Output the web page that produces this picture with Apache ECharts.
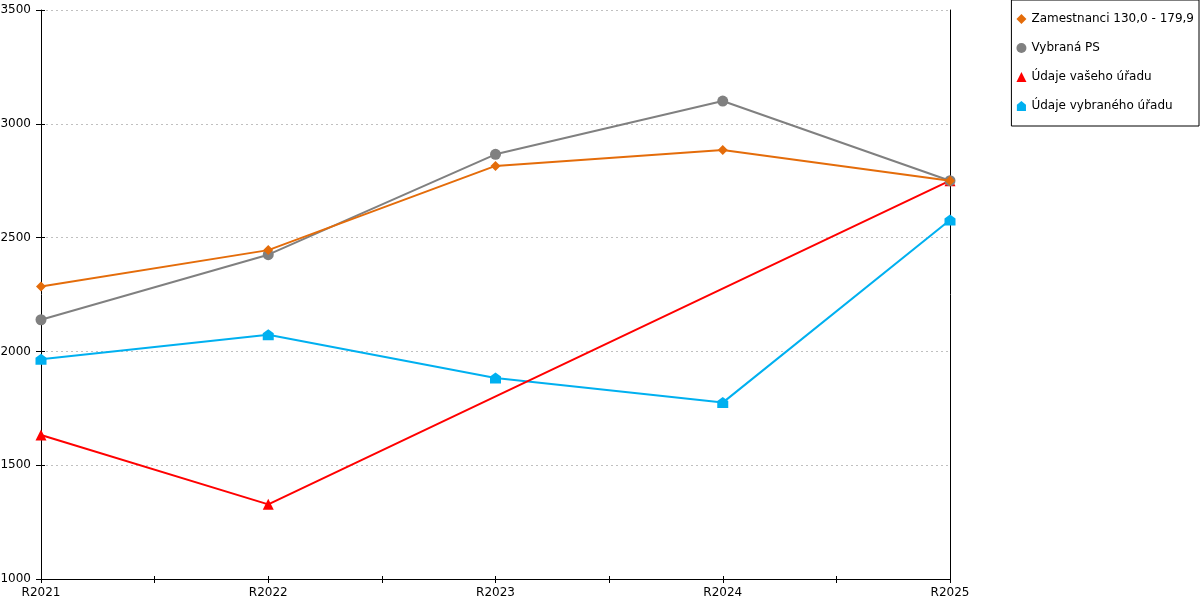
<!DOCTYPE html>
<html>
<head>
<meta charset="utf-8">
<script src="https://cdn.jsdelivr.net/npm/echarts@6/dist/echarts.min.js"></script>
<style>html,body{margin:0;padding:0;background:#fff}#c{width:1200px;height:600px}</style>
</head>
<body>
<div id="c"></div>
<script>
var categories = ['R2021', 'R2022', 'R2023', 'R2024', 'R2025'];
var seriesNames = ['Zamestnanci 130,0 - 179,9', 'Vybraná PS', 'Údaje vašeho úřadu', 'Údaje vybraného úřadu'];
var zamestnanci = [2285, 2445, 2815, 2885, 2750];
var vybranaPS = [2139, 2425, 2866, 3100, 2750];
var vasehoUradu = [1633, 1328, null, null, 2750];
var vybranehoUradu = [1966, 2073, 1883, 1775, 2577];
var yTicks = [1000, 1500, 2000, 2500, 3000, 3500];

var FONT = 'DejaVu Sans';
var house = 'path://M5,0 L10,4 L10,11 L0,11 L0,4 Z';
var colors = ['#E46C0A', '#808080', '#FF0000', '#00B0F0'];
var symbols = ['diamond', 'circle', 'triangle', house];
var sizes = [10, 11, 11, [11, 11]];
var datas = [zamestnanci, vybranaPS, vasehoUradu, vybranehoUradu];

function pairs(arr) { return arr.map(function (v, i) { return [i, v]; }); }

var chart = echarts.init(document.getElementById('c'), null, { renderer: 'canvas' });
var yMin = yTicks[0], yMax = yTicks[yTicks.length - 1], yInt = yTicks[1] - yTicks[0];
var option = {
  animation: false,
  backgroundColor: '#fff',
  textStyle: { fontFamily: FONT },
  grid: { left: 41, right: 250, top: 10, bottom: 21, containLabel: false, outerBoundsMode: 'none' },
  legend: {
    orient: 'vertical',
    right: 1, top: 0,
    padding: [13, 5, 14, 5],
    borderColor: '#000', borderWidth: 1,
    itemWidth: 10, itemHeight: 10, itemGap: 17,
    textStyle: { fontFamily: FONT, fontSize: 12, color: '#000', lineHeight: 12 },
    data: seriesNames.map(function (n, i) { return { name: n, icon: i === 3 ? house : symbols[i], itemStyle: { color: colors[i] } }; })
  },
  xAxis: [{
    type: 'value', min: 0, max: categories.length - 1, interval: 0.5,
    axisLine: { onZero: false, lineStyle: { color: '#000', width: 1 } },
    axisTick: { show: true, length: 4, lineStyle: { color: '#000' } },
    splitLine: { show: false },
    axisLabel: {
      color: '#000', fontSize: 12, fontFamily: FONT, margin: 8, showMinLabel: true, showMaxLabel: true,
      formatter: function (v) { return Number.isInteger(v) ? categories[v] : ''; }
    }
  }, {
    type: 'value', min: 0, max: categories.length - 1, interval: 0.5, position: 'bottom',
    axisLine: { show: false, onZero: false },
    axisTick: { show: true, inside: true, length: 3, lineStyle: { color: '#000' } },
    axisLabel: { show: false }, splitLine: { show: false }
  }],
  yAxis: [{
    type: 'value', min: yMin, max: yMax, interval: yInt,
    axisLine: { show: true, onZero: false, lineStyle: { color: '#000', width: 1 } },
    axisTick: { show: true, length: 5, lineStyle: { color: '#000' } },
    axisLabel: { color: '#000', fontSize: 12, fontFamily: FONT, margin: 10, formatter: function (v) { return String(v); } },
    splitLine: { show: true, lineStyle: { color: '#c0c0c0', type: [2, 3], width: 1 } }
  }, {
    type: 'value', min: yMin, max: yMax, interval: yInt, position: 'right',
    axisLine: { show: true, onZero: false, lineStyle: { color: '#000', width: 1 } },
    axisTick: { show: false }, axisLabel: { show: false }, splitLine: { show: false }
  }, {
    type: 'value', min: yMin, max: yMax, interval: yInt, position: 'left',
    axisLine: { show: false, onZero: false },
    axisTick: { show: true, inside: true, length: 4, lineStyle: { color: '#000' } },
    axisLabel: { show: false }, splitLine: { show: false }
  }],
  series: seriesNames.map(function (n, i) {
    return {
      name: n, type: 'line', data: pairs(datas[i]), connectNulls: true,
      symbol: symbols[i], symbolSize: sizes[i], showSymbol: true,
      lineStyle: { color: colors[i], width: 2 },
      itemStyle: { color: colors[i] },
      z: 10 - i
    };
  })
};
chart.setOption(option);
</script>
</body>
</html>
